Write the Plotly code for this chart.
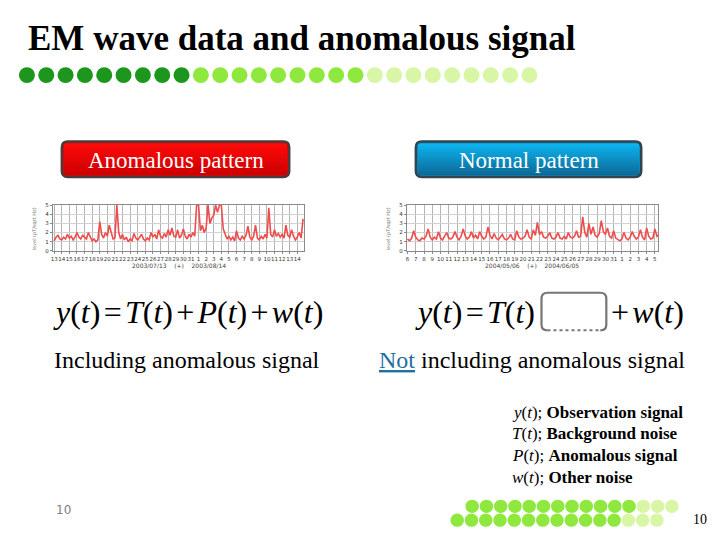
import plotly.graph_objects as go
import numpy as np

W, H = 720, 540

# ---------------- data ----------------
left_days = ["13", "14", "15", "16", "17", "18", "19", "20", "21", "22", "23", "24",
             "25", "26", "27", "28", "29", "30", "31", "1", "2", "3", "4", "5", "6",
             "7", "8", "9", "10", "11", "12", "13", "14"]
left_level = [
    1.1, 1.5, 1.7, 1.3, 1.2, 1.5, 1.3, 1.8, 1.4, 1.6, 1.2, 1.5,
    2.0, 1.5, 1.3, 1.7, 1.5, 1.3, 2.0, 1.5, 1.1, 1.3, 1.0, 1.2,
    3.2, 1.8, 1.4, 2.0, 1.6, 2.8, 1.9, 1.3, 1.4, 5.0, 2.0, 1.3,
    1.8, 1.2, 1.5, 1.0, 1.3, 1.1, 1.9, 1.4, 1.2, 1.5, 1.8, 1.3,
    1.1, 1.4, 1.2, 2.0, 1.5, 1.8, 1.3, 2.3, 1.6, 1.4, 1.9, 1.5,
    2.3, 1.7, 2.5, 1.6, 1.5, 2.3, 1.4, 1.7, 2.4, 1.6, 1.3, 1.8,
    1.5, 2.0, 1.6, 5.0, 5.0, 2.2, 2.8, 2.0, 2.5, 5.0, 3.0, 3.6,
    3.9, 5.0, 4.2, 5.0, 5.0, 2.4, 1.8, 1.3, 1.6, 1.2, 1.5, 1.1,
    2.2, 1.4, 1.2, 1.6, 1.3, 1.7, 2.7, 1.5, 1.2, 1.6, 2.8, 1.4,
    1.2, 1.6, 1.3, 1.8, 1.4, 4.7, 1.8, 1.5, 2.3, 1.6, 1.9, 1.5,
    1.8, 1.4, 2.8, 1.7, 1.5, 2.3, 1.6, 1.2, 1.5, 2.0, 1.4, 3.5,
]
right_days = ["6", "7", "8", "9", "10", "11", "12", "13", "14", "15", "16", "17",
              "18", "19", "20", "21", "22", "23", "24", "25", "26", "27", "28", "29",
              "30", "31", "1", "2", "3", "4", "5"]
right_level = [
    1.3, 1.1, 1.4, 2.2, 1.5, 1.2, 1.1, 1.4, 1.3, 1.6, 2.4, 1.5,
    1.2, 1.5, 1.3, 2.1, 1.4, 1.2, 1.6, 2.0, 1.4, 1.3, 1.5, 2.1,
    1.5, 1.2, 1.6, 2.4, 1.6, 1.3, 1.5, 2.1, 1.4, 1.7, 1.3, 2.1,
    1.6, 1.3, 1.5, 2.6, 1.7, 1.3, 1.9, 1.4, 1.2, 1.5, 1.8, 1.3,
    1.2, 1.4, 1.8, 1.3, 1.2, 2.2, 1.5, 1.3, 1.4, 1.6, 2.3, 1.5,
    1.3, 2.3, 1.7, 3.1, 1.8, 2.1, 1.5, 1.4, 1.6, 2.0, 1.4, 1.3,
    1.5, 2.0, 1.4, 1.3, 1.6, 1.3, 2.0, 1.5, 1.4, 1.6, 2.2, 1.5,
    1.6, 3.7, 2.0, 1.5, 3.0, 1.8, 2.6, 1.7, 1.5, 1.9, 3.3, 2.1,
    1.8, 2.5, 1.6, 1.4, 2.2, 1.4, 1.2, 1.1, 1.3, 2.0, 1.4, 1.2,
    1.5, 2.1, 1.6, 1.3, 1.5, 2.3, 1.5, 1.2, 2.5, 1.6, 1.3, 1.4,
    2.4, 1.6, 1.8,
]
y_ticks = [0, 1, 2, 3, 4, 5]
left_period = "2003/07/13    (+)    2003/08/14"
right_period = "2004/05/06    (+)    2004/06/05"
SAMPLES_PER_DAY = 4

# ---------------- helpers ----------------
def px(x):
    return x / W


def py(y):
    return 1 - y / H


SERIF = "Liberation Serif, Times New Roman, serif"
SANS = "DejaVu Sans, sans-serif"
shapes = []
annotations = []


def text(x, y, s, size, color="black", xanchor="left", family=SERIF, angle=0):
    annotations.append(dict(x=px(x), y=py(y), xref="paper", yref="paper", text=s,
                            showarrow=False, xanchor=xanchor, yanchor="middle",
                            textangle=angle, borderpad=0,
                            font=dict(size=size, color=color, family=family)))


def dot(cx, cy, d, color):
    r = d / 2
    shapes.append(dict(type="circle", xref="paper", yref="paper",
                       x0=px(cx - r), x1=px(cx + r), y0=py(cy + r), y1=py(cy - r),
                       fillcolor=color, line=dict(width=0)))


def P(x, y):
    return f"{px(x):.5f},{py(y):.5f}"


def rounded_path(x0, y0, x1, y1, r):
    return (f"M {P(x0 + r, y0)} L {P(x1 - r, y0)} Q {P(x1, y0)} {P(x1, y0 + r)} "
            f"L {P(x1, y1 - r)} Q {P(x1, y1)} {P(x1 - r, y1)} L {P(x0 + r, y1)} "
            f"Q {P(x0, y1)} {P(x0, y1 - r)} L {P(x0, y0 + r)} Q {P(x0, y0)} {P(x0 + r, y0)} Z")


def mix(c1, c2, t):
    a = [int(c1[i:i + 2], 16) for i in (1, 3, 5)]
    b = [int(c2[i:i + 2], 16) for i in (1, 3, 5)]
    return "#" + "".join(f"{int(round(a[k] + (b[k] - a[k]) * t)):02x}" for k in range(3))


def button(x0, y0, x1, y1, top, bottom, border, label):
    shapes.append(dict(type="path", xref="paper", yref="paper",
                       path=rounded_path(x0, y0, x1, y1, 6),
                       fillcolor=mix(top, bottom, 0.5), line=dict(width=0)))
    n = 14
    for k in range(n):
        ya = y0 + 2 + (y1 - y0 - 4) * k / n
        yb = y0 + 2 + (y1 - y0 - 4) * (k + 1) / n
        shapes.append(dict(type="rect", xref="paper", yref="paper",
                           x0=px(x0 + 2), x1=px(x1 - 2), y0=py(yb + 0.3), y1=py(ya),
                           fillcolor=mix(top, bottom, (k + 0.5) / n), line=dict(width=0)))
    shapes.append(dict(type="path", xref="paper", yref="paper",
                       path=rounded_path(x0, y0, x1, y1, 6),
                       fillcolor="rgba(0,0,0,0)", line=dict(width=2.5, color=border)))
    text((x0 + x1) / 2, (y0 + y1) / 2 + 1, label, 23, "white", "center")


# ---------------- title + decorative dots ----------------
text(25, 36, "<b>EM wave data and anomalous signal</b>", 35)
top_colors = ["#1c961c"] * 9 + ["#8fe83e"] * 9 + ["#d8f6a6"] * 9
for i, c in enumerate(top_colors):
    dot(25 + 19.38 * i, 73, 16, c)

row1 = ["#8fe83e"] * 12 + ["#d8f6a6"] * 3
row2 = ["#8fe83e"] * 12 + ["#d8f6a6"] * 3
for i, c in enumerate(row1):
    dot(471.5 + 14.3 * i, 509, 13.5, c)
for i, c in enumerate(row2):
    dot(456.5 + 14.3 * i, 523, 13.5, c)

# ---------------- buttons ----------------
button(60, 140, 288, 176, "#ff0a0a", "#cc0000", "#4a3c3c", "Anomalous pattern")
button(415, 140, 641, 176, "#0cb6f2", "#0d6896", "#34444c", "Normal pattern")

# ---------------- equations ----------------
sp = "<span style='font-size:13px'> </span>"
eq_left = (f"<i>y</i>(<i>t</i>){sp}={sp}<i>T</i>(<i>t</i>){sp}+{sp}"
           f"<i>P</i>(<i>t</i>){sp}+{sp}<i>w</i>(<i>t</i>)")
text(50, 312, eq_left, 32)
text(413, 312, f"<i>y</i>(<i>t</i>){sp}={sp}<i>T</i>(<i>t</i>)", 32)
text(610, 312, f"+{sp}<i>w</i>(<i>t</i>)", 32)

# dashed placeholder box
bx0, by0, bx1, by1, r = 541, 293, 606, 331, 6
shapes.append(dict(type="path", xref="paper", yref="paper",
                   path=(f"M {P(bx0 + r, by1)} Q {P(bx0, by1)} {P(bx0, by1 - r)} "
                         f"L {P(bx0, by0 + r)} Q {P(bx0, by0)} {P(bx0 + r, by0)} "
                         f"L {P(bx1 - r, by0)} Q {P(bx1, by0)} {P(bx1, by0 + r)} "
                         f"L {P(bx1, by1 - r)} Q {P(bx1, by1)} {P(bx1 - r, by1)}"),
                   line=dict(color="#767676", width=2.2)))
shapes.append(dict(type="line", xref="paper", yref="paper",
                   x0=px(bx0 + r), x1=px(bx1 - r), y0=py(by1), y1=py(by1),
                   line=dict(color="#767676", width=2, dash="dot")))

text(51, 361, "Including anomalous signal", 24)
text(377, 361, "<span style='color:#1f6f9f'><u>Not</u></span> including anomalous signal", 24)

# ---------------- legend text ----------------
legend_lines = [
    "<i>y</i>(<i>t</i>); <b>Observation signal</b>",
    "<i>T</i>(<i>t</i>); <b>Background noise</b>",
    "<i>P</i>(<i>t</i>); <b>Anomalous signal</b>",
    "<i>w</i>(<i>t</i>); <b>Other noise</b>",
]
for k, s in enumerate(legend_lines):
    text(510, 414 + 21.8 * k, s, 17)

text(62, 513, "10", 12, "#808080", "center", SANS)
text(700, 522, "10", 14, "black", "center")

# ---------------- small charts ----------------
fig = go.Figure()
lx = np.arange(len(left_level)) / SAMPLES_PER_DAY
rx = np.arange(len(right_level)) / SAMPLES_PER_DAY
fig.add_trace(go.Scatter(x=lx, y=left_level, mode="lines", xaxis="x", yaxis="y",
                         line=dict(color="#f04c4c", width=1.6), showlegend=False))
fig.add_trace(go.Scatter(x=rx, y=right_level, mode="lines", xaxis="x2", yaxis="y2",
                         line=dict(color="#f04c4c", width=1.6), showlegend=False))

ydom = [py(250.7), py(204.3)]
tick_font = dict(size=5.5, color="#333333", family=SANS)


def xax(domain, rng, labels):
    return dict(domain=domain, range=rng, tickmode="array",
                tickvals=list(range(len(labels))), ticktext=labels, tickangle=0,
                tickfont=tick_font, showgrid=True, gridcolor="#b4b4b4", gridwidth=1,
                showline=True, linecolor="#8a8a8a", linewidth=1, mirror=True,
                ticks="outside", ticklen=2, tickcolor="#8a8a8a", zeroline=False,
                fixedrange=True)


def yax(anchor):
    return dict(domain=ydom, range=[0, 5], tickmode="array", tickvals=y_ticks,
                tickfont=tick_font, showgrid=True, gridcolor="#d2d2d2",
                showline=True, linecolor="#8a8a8a", linewidth=1, mirror=True,
                ticks="outside", ticklen=2, tickcolor="#8a8a8a", zeroline=False,
                anchor=anchor, fixedrange=True)


text(177, 265, left_period, 6, "#444444", "center", SANS)
text(531, 265, right_period, 6, "#444444", "center", SANS)
text(33, 228, "level (pT/sqrt Hz)", 5, "#777777", "center", SANS, -90)
text(388, 228, "level (pT/sqrt Hz)", 5, "#777777", "center", SANS, -90)

fig.update_layout(
    width=W, height=H, margin=dict(l=0, r=0, t=0, b=0),
    paper_bgcolor="white", plot_bgcolor="white", showlegend=False,
    xaxis=xax([px(51), px(303)], [-0.17, 32.9], left_days),
    yaxis=yax("x"),
    xaxis2=dict(xax([px(406), px(658)], [-0.08, 30.4], right_days), anchor="y2"),
    yaxis2=yax("x2"),
    shapes=shapes, annotations=annotations,
)
fig.write_html("out.html", config={"displayModeBar": False},
               post_script="document.body.style.margin='0px';document.body.style.overflow='hidden';")
